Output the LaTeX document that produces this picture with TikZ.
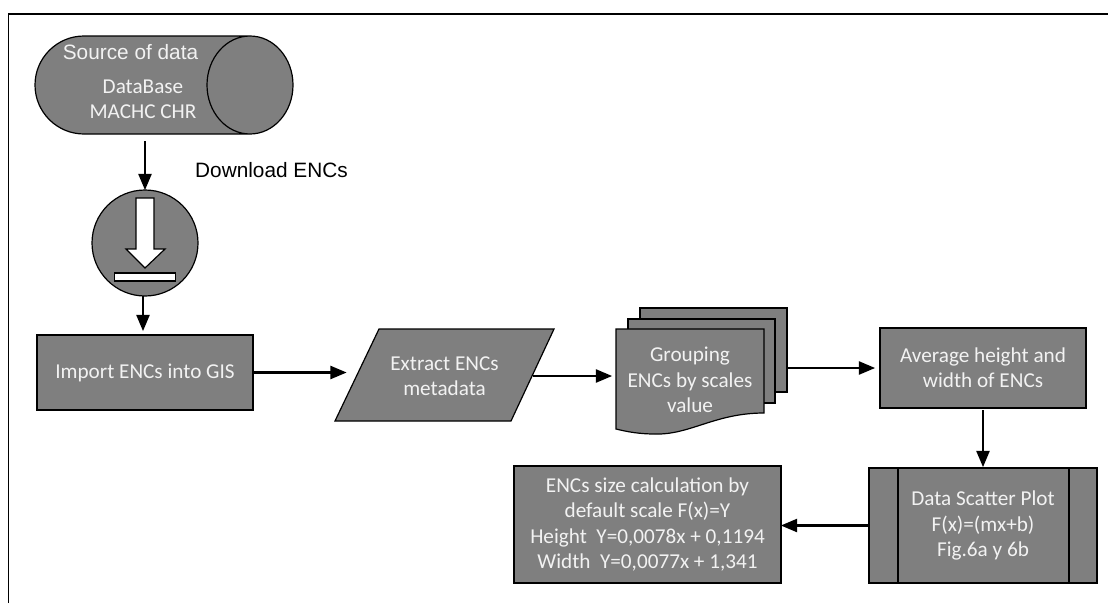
\documentclass[tikz,border=0pt]{standalone}
\usepackage{fontspec}
\setmainfont{Carlito}
\newfontfamily\labelfont{Liberation Sans}
\usetikzlibrary{arrows,positioning}
\definecolor{boxgray}{HTML}{7F7F7F}
\definecolor{boxtext}{HTML}{F2F2F2}

\begin{document}
\begin{tikzpicture}[x=1pt,y=-1pt,
                    main node/.style={draw=black,line width=1.2pt,fill=boxgray,text=boxtext,
                      align=center,inner sep=0pt,outer sep=0pt,
                      font=\fontsize{21.2}{25.3}\selectfont},
                    box node/.style={main node,rectangle},
                    text node/.style={main node,draw=none,fill=none},
                    label node/.style={text node,font=\labelfont\fontsize{20.8}{24}\selectfont},
                    flow/.style={-triangle 45,line width=2.8pt,black}]

  \useasboundingbox (0,0) rectangle (1108,603);
  \draw[line width=1.6pt] (8.5,603) -- (8.5,14) -- (1108,14);

  % source and download
  \draw[main node] (250,36) -- (84,36) arc[start angle=90,end angle=270,radius=49pt] -- (250,134)
    arc[start angle=270,end angle=450,x radius=43pt,y radius=49pt]
    arc[start angle=90,end angle=270,x radius=43pt,y radius=49pt];
  \node[text node,minimum width=259pt,minimum height=98pt] (source) at (164.5,85) {};
  \node[label node] (sourcelabel) at (130.5,52) {Source of data};
  \node[text node] (database) at (143,99.5) {DataBase\\MACHC CHR};
  \node[main node,circle,minimum size=106pt] (download) at (145,243) {};
  \node[label node,text=black] (downloadlabel) at (271.5,170) {Download ENCs};
  \draw[fill=white,line width=1.2pt] (136,198) -- (154,198) -- (154,249) -- (165,249) -- (145,268)
    -- (126,249) -- (136,249) -- cycle;
  \draw[fill=white,line width=1.2pt] (114.5,273) rectangle (175.5,281);

  % top row
  \node[box node,minimum width=216pt,minimum height=75pt] (import) at (145,372.5) {Import ENCs into GIS};
  \draw[main node] (379,329) -- (554,329) -- (511,421) -- (335,421) -- cycle;
  \node[text node,minimum width=176pt] (metadata) at (444.5,376) {Extract ENCs\\metadata};
  \node[box node,minimum width=147pt,minimum height=84pt] (sheetback) at (713.5,350) {};
  \node[box node,minimum width=147pt,minimum height=84pt] (sheetmid) at (701.5,361) {};
  \draw[main node] (616,329) -- (764,329) -- (764,413) .. controls (715,413) and (690,435) .. (655,434)
    .. controls (640,434) and (628,432) .. (616,429) -- cycle;
  \node[text node,minimum width=148pt] (grouping) at (690,380) {Grouping\\ENCs by scales\\value};
  \node[box node,minimum width=206pt,minimum height=80pt] (average) at (983,368) {Average height and\\width of ENCs};

  % bottom row
  \node[box node,minimum width=228pt,minimum height=115pt,below=60pt of average] (scatter) {Data Scatter Plot\\F(x)=(mx+b)\\Fig.6a y 6b};
  \draw[line width=1.2pt] ([xshift=-85pt]scatter.north) -- ([xshift=-85pt]scatter.south);
  \draw[line width=1.2pt] ([xshift=86pt]scatter.north) -- ([xshift=86pt]scatter.south);
  \node[box node,minimum width=267pt,minimum height=117pt] (calculation) at (647.5,524.5)
    {ENCs size calculation by\\default scale F(x)=Y\\Height\ \ Y=0,0078x + 0,1194\\Width\ \ Y=0,0077x + 1,341};

  \draw[flow,shorten <=7pt] (download |- source.south) -- (download.north);
  \draw[flow,shorten >=4pt] ([xshift=-2pt]download.south) -- ([xshift=-2pt]import.north);
  \draw[flow,shorten >=10pt] (import.east) -- (import.east -| metadata.west);
  \draw[flow,shorten >=4pt] (metadata.east) -- (metadata.east -| grouping.west);
  \draw[flow,shorten >=5pt] (sheetback.east |- average.west) -- (average.west);
  \draw[flow,shorten <=2pt,shorten >=1pt] (average.south) -- (scatter.north);
  \draw[flow] (scatter.west) -- (scatter.west -| calculation.east);
\end{tikzpicture}
\end{document}
